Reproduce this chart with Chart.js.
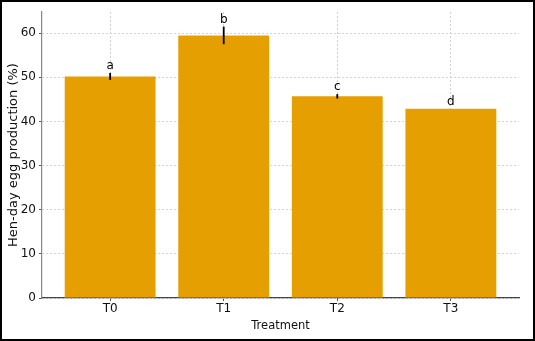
<!DOCTYPE html>
<html>
<head>
<meta charset="utf-8">
<script src="https://cdn.jsdelivr.net/npm/chart.js@4/dist/chart.umd.min.js"></script>
<style>
  html, body { margin: 0; padding: 0; background: #fff; }
  #wrap { width: 535px; height: 341px; position: relative; }
</style>
</head>
<body>
<div id="wrap"><canvas id="chart" width="535" height="341"></canvas></div>
<script>
const treatments = ['T0', 'T1', 'T2', 'T3'];
const production = [50.2, 59.5, 45.7, 42.9];
const errors = [0.8, 2.0, 0.5, 0.0];
const letters = ['a', 'b', 'c', 'd'];
const yTicks = [0, 10, 20, 30, 40, 50, 60];

const barColor = '#E69F00';
const fontFamily = "'DejaVu Sans', sans-serif";

// error bars, significance letters and the outer frame
const extras = {
  id: 'extras',
  afterDatasetsDraw(chart) {
    const { ctx, scales: { x, y } } = chart;
    ctx.save();
    ctx.strokeStyle = '#000';
    ctx.lineWidth = 1.8;
    ctx.fillStyle = '#000';
    ctx.font = `12px ${fontFamily}`;
    ctx.textAlign = 'center';
    ctx.textBaseline = 'bottom';
    production.forEach((v, i) => {
      const px = x.getPixelForValue(i);
      const top = y.getPixelForValue(v + errors[i]);
      const bot = y.getPixelForValue(v - errors[i]);
      if (errors[i] > 0) {
        ctx.beginPath();
        ctx.moveTo(px, top);
        ctx.lineTo(px, bot);
        ctx.stroke();
      }
      ctx.fillText(letters[i], px, top - 1);
    });
    ctx.restore();
  },
  afterDraw(chart) {
    const { ctx, width, height } = chart;
    ctx.save();
    ctx.strokeStyle = '#000';
    ctx.lineWidth = 2;
    ctx.strokeRect(1, 1, width - 2, height - 2);
    ctx.restore();
  },
};

new Chart(document.getElementById('chart'), {
  type: 'bar',
  data: {
    datasets: [{
      data: production.map((v, i) => ({ x: i, y: v })),
      backgroundColor: barColor,
      borderWidth: 0,
      barPercentage: 0.8,
      categoryPercentage: 1.0,
    }],
  },
  options: {
    responsive: false,
    animation: false,
    layout: { padding: { top: 12, right: 16, left: 0, bottom: 0 } },
    plugins: { legend: { display: false }, tooltip: { enabled: false } },
    scales: {
      x: {
        type: 'linear',
        offset: false,
        min: -0.6,
        max: 3.6,
        afterBuildTicks(scale) { scale.ticks = treatments.map((_, i) => ({ value: i })); },
        afterFit(scale) { scale.height = 43; },
        ticks: {
          color: '#111',
          font: { family: fontFamily, size: 12 },
          padding: 1,
          callback: (v) => treatments[v] ?? '',
        },
        grid: { offset: false, color: '#d0d0d0', lineWidth: 1, tickLength: 3, tickColor: '#555' },
        border: { color: '#444', width: 1.2, dash: [2, 2] },
        title: {
          display: true,
          text: 'Treatment',
          color: '#111',
          font: { family: fontFamily, size: 11.5 },
          padding: { top: 3, bottom: 8 },
        },
      },
      y: {
        min: 0,
        max: 64.8,
        afterBuildTicks(scale) { scale.ticks = yTicks.map((v) => ({ value: v })); },
        afterFit(scale) { scale.width = 42; },
        ticks: {
          color: '#111',
          font: { family: fontFamily, size: 12 },
          padding: 3,
        },
        grid: { color: '#d0d0d0', lineWidth: 1, tickLength: 3, tickColor: '#555' },
        border: { color: '#888', width: 1.2, dash: [2, 2] },
        title: {
          display: true,
          text: 'Hen-day egg production (%)',
          color: '#111',
          font: { family: fontFamily, size: 13 },
          padding: { top: 6, bottom: 0 },
        },
      },
    },
  },
  plugins: [extras],
});
</script>
</body>
</html>
